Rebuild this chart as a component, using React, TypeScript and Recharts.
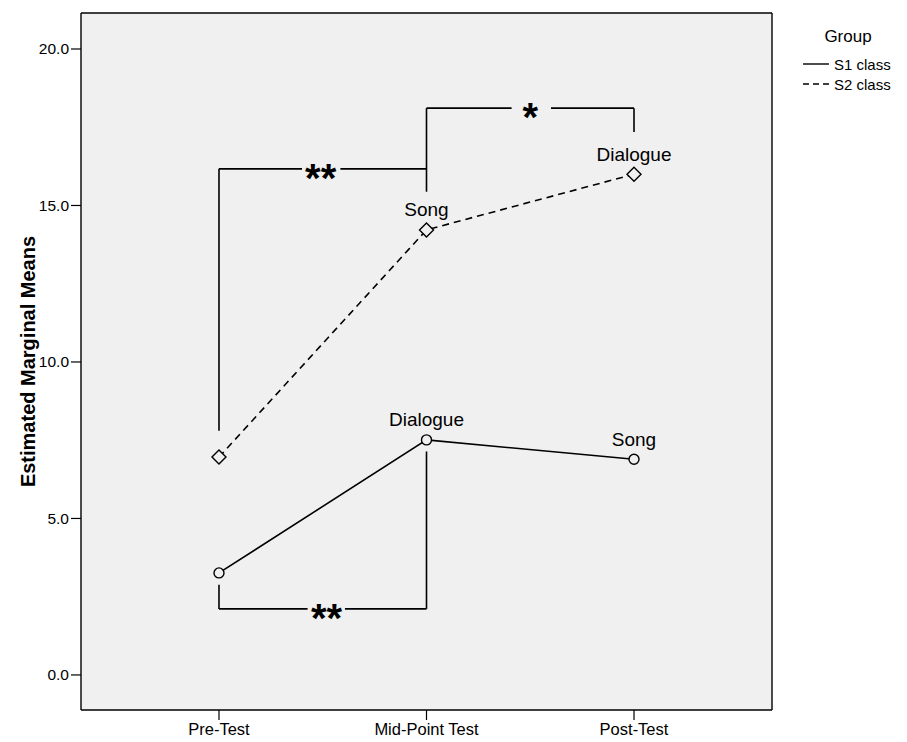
import React from "react";
import {
  LineChart,
  Line,
  XAxis,
  YAxis,
  CartesianGrid,
  ReferenceLine,
  ReferenceDot,
  LabelList,
} from "recharts";

const categories = ["Pre-Test", "Mid-Point Test", "Post-Test"];
const s1Class = [3.26, 7.51, 6.89];
const s2Class = [6.96, 14.22, 16.0];
const s1Labels = ["", "Dialogue", "Song"];
const s2Labels = ["", "Song", "Dialogue"];
const yTicks = [0, 5, 10, 15, 20];

// significance brackets, in data units (x = test index, y = mean)
const bracketSegments = [
  [[0, 7.8], [0, 16.17]],
  [[0, 16.17], [0.4, 16.17]],
  [[0.585, 16.17], [1, 16.17]],
  [[1, 15.44], [1, 18.11]],
  [[1, 18.11], [1.41, 18.11]],
  [[1.6, 18.11], [2, 18.11]],
  [[2, 18.11], [2, 17.35]],
  [[0, 2.88], [0, 2.11]],
  [[0, 2.11], [0.427, 2.11]],
  [[0.607, 2.11], [1, 2.11]],
  [[1, 2.11], [1, 7.14]],
];
const starX = [0.49, 1.5, 0.518];
const starY = [16.17, 18.11, 2.11];
const starText = ["**", "*", "**"];

const X_DOMAIN = [-0.665, 2.665];
const Y_DOMAIN = [-1.12, 21.15];
const BG = "#f0f0f0";
const FONT = "'Liberation Sans', Arial, sans-serif";

const data = categories.map((c, i) => ({
  idx: i,
  name: c,
  s1: s1Class[i],
  s2: s2Class[i],
}));

const Circle = (props: any) => {
  const { cx, cy } = props;
  if (cx == null || cy == null) return null;
  return <circle cx={cx} cy={cy} r={5} fill={BG} stroke="#000" strokeWidth={1.4} />;
};

const Diamond = (props: any) => {
  const { cx, cy } = props;
  if (cx == null || cy == null) return null;
  const r = 7;
  return (
    <polygon
      points={`${cx},${cy - r} ${cx + r},${cy} ${cx},${cy + r} ${cx - r},${cy}`}
      fill={BG}
      stroke="#000"
      strokeWidth={1.4}
    />
  );
};

const pointLabel = (labels: string[]) => (props: any) => {
  const { x, y, index } = props;
  const t = labels[index];
  if (!t) return null;
  return (
    <text
      x={x}
      y={y - 20}
      textAnchor="middle"
      dominantBaseline="central"
      fontFamily={FONT}
      fontSize={19}
      fill="#000"
    >
      {t}
    </text>
  );
};

const GroupLegend = () => (
  <svg
    width={117}
    height={100}
    style={{ position: "absolute", left: 790, top: 10 }}
  >
    <text x={58} y={32} textAnchor="middle" fontFamily={FONT} fontSize={17} fill="#000">
      Group
    </text>
    <line x1={13} x2={39} y1={54} y2={54} stroke="#000" strokeWidth={1.4} />
    <text x={44} y={59.5} fontFamily={FONT} fontSize={15} fill="#000">
      S1 class
    </text>
    <line x1={13} x2={39} y1={74} y2={74} stroke="#000" strokeWidth={1.4} strokeDasharray="6 4" />
    <text x={44} y={79.5} fontFamily={FONT} fontSize={15} fill="#000">
      S2 class
    </text>
  </svg>
);

const YTitle = (props: any) => {
  const vb = props.viewBox || { y: 13, height: 697 };
  const cy = vb.y + vb.height / 2;
  return (
    <text
      x={28}
      y={cy}
      transform={`rotate(-90, 28, ${cy})`}
      textAnchor="middle"
      dominantBaseline="central"
      fontFamily={FONT}
      fontWeight="bold"
      fontSize={20}
      fill="#000"
    >
      Estimated Marginal Means
    </text>
  );
};

export default function App() {
  return (
    <div style={{ position: "absolute", left: 0, top: 0, width: 907, height: 742, background: "#fff" }}>
      <LineChart
        width={907}
        height={742}
        data={data}
        margin={{ top: 13, right: 135, bottom: 0, left: 0 }}
      >
        <CartesianGrid fill={BG} horizontal={false} vertical={false} />
        <XAxis
          dataKey="idx"
          type="number"
          domain={X_DOMAIN}
          ticks={[0, 1, 2]}
          tickFormatter={(v: number) => categories[v] ?? ""}
          allowDataOverflow
          height={32}
          tickSize={10}
          tickMargin={3}
          axisLine={{ stroke: "#000", strokeWidth: 1.4 }}
          tickLine={{ stroke: "#000", strokeWidth: 1.2 }}
          tick={{ fill: "#000", fontSize: 16.5, fontFamily: FONT }}
        />
        <YAxis
          type="number"
          domain={Y_DOMAIN}
          ticks={yTicks}
          allowDataOverflow
          width={81}
          tickSize={10}
          tickMargin={2}
          tickFormatter={(v: number) => v.toFixed(1)}
          axisLine={{ stroke: "#000", strokeWidth: 1.4 }}
          tickLine={{ stroke: "#000", strokeWidth: 1.2 }}
          tick={{ fill: "#000", fontSize: 15.5, fontFamily: FONT }}
          label={{ content: YTitle }}
        />
        <ReferenceLine y={Y_DOMAIN[1]} stroke="#000" strokeWidth={1.4} ifOverflow="visible" />
        <ReferenceLine x={X_DOMAIN[1]} stroke="#000" strokeWidth={1.4} ifOverflow="visible" />
        {bracketSegments.map((seg, i) => (
          <ReferenceLine
            key={`br-${i}`}
            segment={[
              { x: seg[0][0], y: seg[0][1] },
              { x: seg[1][0], y: seg[1][1] },
            ]}
            stroke="#000"
            strokeWidth={1.6}
            ifOverflow="visible"
          />
        ))}
        {starX.map((sx, i) => (
          <ReferenceDot
            key={`star-${i}`}
            x={sx}
            y={starY[i]}
            r={0}
            ifOverflow="visible"
            shape={(p: any) => (
              <text
                x={p.cx}
                y={p.cy + 23}
                textAnchor="middle"
                fontFamily={FONT}
                fontWeight="bold"
                fontSize={40}
                fill="#000"
              >
                {starText[i]}
              </text>
            )}
          />
        ))}
        <Line
          dataKey="s1"
          stroke="#000"
          strokeWidth={1.6}
          dot={<Circle />}
          activeDot={false}
          isAnimationActive={false}
        >
          <LabelList dataKey="s1" content={pointLabel(s1Labels)} />
        </Line>
        <Line
          dataKey="s2"
          stroke="#000"
          strokeWidth={1.6}
          strokeDasharray="7 5"
          dot={<Diamond />}
          activeDot={false}
          isAnimationActive={false}
        >
          <LabelList dataKey="s2" content={pointLabel(s2Labels)} />
        </Line>
      </LineChart>
      <GroupLegend />
    </div>
  );
}
